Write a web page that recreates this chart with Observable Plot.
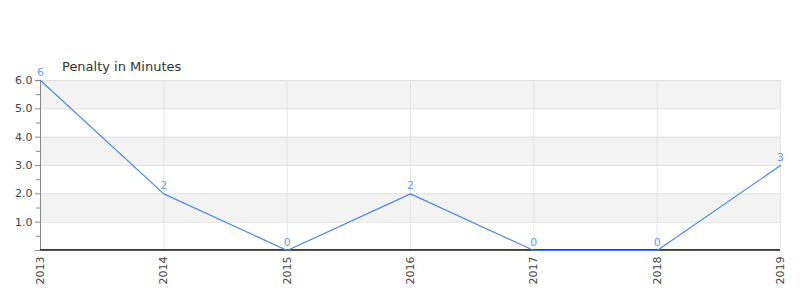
<!DOCTYPE html>
<html>
<head>
<meta charset="utf-8">
<script src="https://cdn.jsdelivr.net/npm/d3@7"></script>
<script src="https://cdn.jsdelivr.net/npm/@observablehq/plot@0.6"></script>
<style>
  html, body { margin: 0; padding: 0; background: #fff; }
  #wrap { position: relative; width: 800px; height: 300px; font-family: "DejaVu Sans", sans-serif; }
  #title { position: absolute; left: 62px; top: 59px; font-size: 13px; color: #333; }
  #chart { position: absolute; left: 0; top: 0; }
</style>
</head>
<body>
<div id="wrap">
  <div id="chart"></div>
  <div id="title">Penalty in Minutes</div>
</div>
<script>
const years = [2013, 2014, 2015, 2016, 2017, 2018, 2019];
const penalty = [6, 2, 0, 2, 0, 0, 3];
const yMajor = [0, 1, 2, 3, 4, 5, 6];
const yMinor = [0.5, 1.5, 2.5, 3.5, 4.5, 5.5];
const bandLows = [1, 3, 5];

const data = years.map((y, i) => ({year: y, value: penalty[i]}));
const bands = bandLows.map(b => ({y1: b, y2: b + 1}));

const chart = Plot.plot({
  width: 800,
  height: 300,
  marginTop: 80,
  marginBottom: 50,
  marginLeft: 40,
  marginRight: 20,
  style: {fontFamily: "DejaVu Sans, sans-serif", fontSize: "11px", color: "#444", background: "#fff"},
  x: {type: "linear", domain: [2013, 2019], label: null},
  y: {domain: [0, 6], label: null},
  marks: [
    Plot.rect(bands, {y1: "y1", y2: "y2", fill: "#f3f3f3"}),
    Plot.gridY(yMajor.filter(d => d > 0), {stroke: "#e0e0e0", strokeOpacity: 1}),
    Plot.gridX(years, {stroke: "#e4e4e4", strokeOpacity: 1}),
    Plot.axisX(years, {tickSize: 0, tickPadding: 6, tickRotate: -90, tickFormat: d => String(d), fill: "#444", label: null}),
    Plot.axisY(yMajor, {tickSize: 5, tickPadding: 3, tickFormat: d => d === 0 ? "" : d.toFixed(1), stroke: "#888", strokeOpacity: 1, fill: "#444", label: null}),
    Plot.axisY(yMinor, {tickSize: 4, tickFormat: () => "", stroke: "#888", strokeOpacity: 1, label: null}),
    Plot.ruleX([2013], {stroke: "#888"}),
    Plot.ruleY([0], {stroke: "#555", strokeWidth: 1}),
    Plot.ruleY([0], {stroke: "#cc0000", strokeWidth: 1, dy: -1}),
    Plot.line(data, {x: "year", y: "value", stroke: "#4a86e8", strokeWidth: 1.2}),
    Plot.text(data, {x: "year", y: "value", text: d => String(d.value), dy: -8, fill: "#6b9bef", fontSize: 11})
  ]
});
document.getElementById("chart").appendChild(chart);
</script>
</body>
</html>
